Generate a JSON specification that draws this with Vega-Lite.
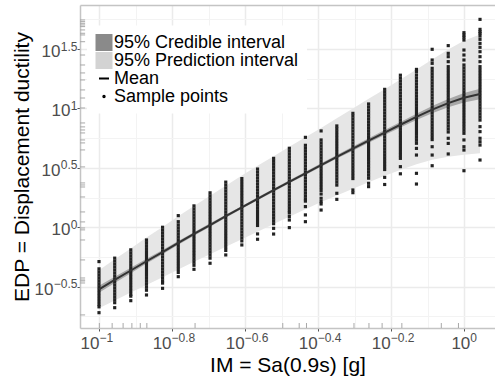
{
"$schema":"https://vega.github.io/schema/vega-lite/v6.json",
"width":415,"height":323,
"autosize":{"type":"none"},
"padding":{"left":80,"top":5,"right":0,"bottom":53},
"config":{"font":"Liberation Sans","view":{"stroke":null}},
"datasets":{
"fit":[
{"x":-1,"m":-0.522,"pl":-0.682,"ph":-0.362,"cl":-0.552,"ch":-0.492},
{"x":-0.957,"m":-0.443,"pl":-0.616,"ph":-0.27,"cl":-0.469,"ch":-0.417},
{"x":-0.913,"m":-0.364,"pl":-0.55,"ph":-0.178,"cl":-0.387,"ch":-0.341},
{"x":-0.87,"m":-0.286,"pl":-0.485,"ph":-0.087,"cl":-0.306,"ch":-0.266},
{"x":-0.826,"m":-0.209,"pl":-0.421,"ph":0.003,"cl":-0.227,"ch":-0.191},
{"x":-0.783,"m":-0.132,"pl":-0.356,"ph":0.092,"cl":-0.148,"ch":-0.116},
{"x":-0.74,"m":-0.056,"pl":-0.291,"ph":0.179,"cl":-0.071,"ch":-0.041},
{"x":-0.696,"m":0.019,"pl":-0.227,"ph":0.265,"cl":0.005,"ch":0.033},
{"x":-0.653,"m":0.093,"pl":-0.164,"ph":0.35,"cl":0.08,"ch":0.106},
{"x":-0.609,"m":0.167,"pl":-0.101,"ph":0.435,"cl":0.155,"ch":0.179},
{"x":-0.566,"m":0.24,"pl":-0.037,"ph":0.517,"cl":0.228,"ch":0.252},
{"x":-0.522,"m":0.312,"pl":0.027,"ph":0.597,"cl":0.3,"ch":0.324},
{"x":-0.479,"m":0.383,"pl":0.089,"ph":0.677,"cl":0.371,"ch":0.395},
{"x":-0.435,"m":0.454,"pl":0.151,"ph":0.757,"cl":0.441,"ch":0.467},
{"x":-0.392,"m":0.524,"pl":0.212,"ph":0.836,"cl":0.51,"ch":0.538},
{"x":-0.349,"m":0.593,"pl":0.268,"ph":0.918,"cl":0.578,"ch":0.608},
{"x":-0.305,"m":0.662,"pl":0.324,"ph":1.0,"cl":0.645,"ch":0.679},
{"x":-0.262,"m":0.73,"pl":0.379,"ph":1.081,"cl":0.711,"ch":0.749},
{"x":-0.218,"m":0.797,"pl":0.433,"ph":1.161,"cl":0.776,"ch":0.818},
{"x":-0.175,"m":0.863,"pl":0.483,"ph":1.243,"cl":0.839,"ch":0.887},
{"x":-0.131,"m":0.929,"pl":0.531,"ph":1.327,"cl":0.902,"ch":0.956},
{"x":-0.088,"m":0.99,"pl":0.568,"ph":1.412,"cl":0.959,"ch":1.021},
{"x":-0.044,"m":1.045,"pl":0.593,"ph":1.497,"cl":1.01,"ch":1.08},
{"x":-0.001,"m":1.09,"pl":0.61,"ph":1.57,"cl":1.05,"ch":1.13},
{"x":0.043,"m":1.122,"pl":0.622,"ph":1.622,"cl":1.077,"ch":1.167}
],
"rugx":[{"x":-0.999},{"x":-0.964},{"x":-0.934},{"x":-0.91},{"x":-0.887},{"x":-0.869},{"x":-0.737},{"x":-0.497},{"x":-0.452},{"x":-0.432},{"x":-0.302},{"x":-0.261},{"x":-0.225},{"x":-0.171},{"x":-0.063},{"x":-0.016}],
"rugy":[{"y":1.745},{"y":1.731},{"y":1.717},{"y":1.703},{"y":1.689},{"y":1.661},{"y":1.633},{"y":1.619},{"y":1.562},{"y":1.45},{"y":1.366},{"y":1.299},{"y":1.24},{"y":1.156},{"y":1.088},{"y":1.004},{"y":0.878},{"y":0.845},{"y":0.819},{"y":0.794},{"y":0.735},{"y":0.71},{"y":0.651},{"y":0.508},{"y":0.373},{"y":0.356},{"y":0.339},{"y":0.255},{"y":0.129},{"y":0.045},{"y":-0.006},{"y":-0.022},{"y":-0.107},{"y":-0.275},{"y":-0.427},{"y":-0.444},{"y":-0.452},{"y":-0.469},{"y":-0.738}],
"pts":[
{"x":-1,"y":-0.289},{"x":-1,"y":-0.35},{"x":-1,"y":-0.375},{"x":-1,"y":-0.4},{"x":-1,"y":-0.425},{"x":-1,"y":-0.45},{"x":-1,"y":-0.475},{"x":-1,"y":-0.5},{"x":-1,"y":-0.525},{"x":-1,"y":-0.55},{"x":-1,"y":-0.575},{"x":-1,"y":-0.6},{"x":-1,"y":-0.625},{"x":-1,"y":-0.65},{"x":-1,"y":-0.67},{"x":-1,"y":-0.719},
{"x":-0.957,"y":-0.26},{"x":-0.957,"y":-0.285},{"x":-0.957,"y":-0.31},{"x":-0.957,"y":-0.335},{"x":-0.957,"y":-0.36},{"x":-0.957,"y":-0.385},{"x":-0.957,"y":-0.41},{"x":-0.957,"y":-0.435},{"x":-0.957,"y":-0.46},{"x":-0.957,"y":-0.485},{"x":-0.957,"y":-0.51},{"x":-0.957,"y":-0.535},{"x":-0.957,"y":-0.56},{"x":-0.957,"y":-0.585},{"x":-0.957,"y":-0.61},{"x":-0.957,"y":-0.635},{"x":-0.957,"y":-0.677},
{"x":-0.913,"y":-0.19},{"x":-0.913,"y":-0.215},{"x":-0.913,"y":-0.24},{"x":-0.913,"y":-0.265},{"x":-0.913,"y":-0.29},{"x":-0.913,"y":-0.315},{"x":-0.913,"y":-0.34},{"x":-0.913,"y":-0.365},{"x":-0.913,"y":-0.39},{"x":-0.913,"y":-0.415},{"x":-0.913,"y":-0.44},{"x":-0.913,"y":-0.465},{"x":-0.913,"y":-0.49},{"x":-0.913,"y":-0.515},{"x":-0.913,"y":-0.54},{"x":-0.913,"y":-0.565},{"x":-0.913,"y":-0.58},{"x":-0.913,"y":-0.618},
{"x":-0.87,"y":-0.107},{"x":-0.87,"y":-0.13},{"x":-0.87,"y":-0.155},{"x":-0.87,"y":-0.18},{"x":-0.87,"y":-0.205},{"x":-0.87,"y":-0.23},{"x":-0.87,"y":-0.255},{"x":-0.87,"y":-0.28},{"x":-0.87,"y":-0.305},{"x":-0.87,"y":-0.33},{"x":-0.87,"y":-0.355},{"x":-0.87,"y":-0.38},{"x":-0.87,"y":-0.405},{"x":-0.87,"y":-0.43},{"x":-0.87,"y":-0.455},{"x":-0.87,"y":-0.48},{"x":-0.87,"y":-0.505},{"x":-0.87,"y":-0.53},{"x":-0.87,"y":-0.57},
{"x":-0.826,"y":0},{"x":-0.826,"y":-0.025},{"x":-0.826,"y":-0.05},{"x":-0.826,"y":-0.075},{"x":-0.826,"y":-0.1},{"x":-0.826,"y":-0.125},{"x":-0.826,"y":-0.15},{"x":-0.826,"y":-0.175},{"x":-0.826,"y":-0.2},{"x":-0.826,"y":-0.225},{"x":-0.826,"y":-0.25},{"x":-0.826,"y":-0.275},{"x":-0.826,"y":-0.3},{"x":-0.826,"y":-0.325},{"x":-0.826,"y":-0.35},{"x":-0.826,"y":-0.375},{"x":-0.826,"y":-0.4},{"x":-0.826,"y":-0.425},{"x":-0.826,"y":-0.45},{"x":-0.826,"y":-0.47},{"x":-0.826,"y":-0.514},
{"x":-0.783,"y":0.098},{"x":-0.783,"y":0.047},{"x":-0.783,"y":0.02},{"x":-0.783,"y":-0.005},{"x":-0.783,"y":-0.03},{"x":-0.783,"y":-0.055},{"x":-0.783,"y":-0.08},{"x":-0.783,"y":-0.105},{"x":-0.783,"y":-0.13},{"x":-0.783,"y":-0.155},{"x":-0.783,"y":-0.18},{"x":-0.783,"y":-0.205},{"x":-0.783,"y":-0.23},{"x":-0.783,"y":-0.255},{"x":-0.783,"y":-0.28},{"x":-0.783,"y":-0.305},{"x":-0.783,"y":-0.33},{"x":-0.783,"y":-0.355},{"x":-0.783,"y":-0.38},{"x":-0.783,"y":-0.416},
{"x":-0.74,"y":0.18},{"x":-0.74,"y":0.155},{"x":-0.74,"y":0.13},{"x":-0.74,"y":0.105},{"x":-0.74,"y":0.08},{"x":-0.74,"y":0.055},{"x":-0.74,"y":0.03},{"x":-0.74,"y":0.005},{"x":-0.74,"y":-0.02},{"x":-0.74,"y":-0.045},{"x":-0.74,"y":-0.07},{"x":-0.74,"y":-0.095},{"x":-0.74,"y":-0.12},{"x":-0.74,"y":-0.145},{"x":-0.74,"y":-0.17},{"x":-0.74,"y":-0.195},{"x":-0.74,"y":-0.22},{"x":-0.74,"y":-0.245},{"x":-0.74,"y":-0.27},{"x":-0.74,"y":-0.295},{"x":-0.74,"y":-0.32},{"x":-0.74,"y":-0.354},
{"x":-0.696,"y":0.29},{"x":-0.696,"y":0.265},{"x":-0.696,"y":0.24},{"x":-0.696,"y":0.215},{"x":-0.696,"y":0.19},{"x":-0.696,"y":0.165},{"x":-0.696,"y":0.14},{"x":-0.696,"y":0.115},{"x":-0.696,"y":0.09},{"x":-0.696,"y":0.065},{"x":-0.696,"y":0.04},{"x":-0.696,"y":0.015},{"x":-0.696,"y":-0.01},{"x":-0.696,"y":-0.035},{"x":-0.696,"y":-0.06},{"x":-0.696,"y":-0.085},{"x":-0.696,"y":-0.11},{"x":-0.696,"y":-0.135},{"x":-0.696,"y":-0.16},{"x":-0.696,"y":-0.185},{"x":-0.696,"y":-0.21},{"x":-0.696,"y":-0.235},{"x":-0.696,"y":-0.26},{"x":-0.696,"y":-0.303},
{"x":-0.653,"y":0.38},{"x":-0.653,"y":0.355},{"x":-0.653,"y":0.33},{"x":-0.653,"y":0.305},{"x":-0.653,"y":0.28},{"x":-0.653,"y":0.255},{"x":-0.653,"y":0.23},{"x":-0.653,"y":0.205},{"x":-0.653,"y":0.18},{"x":-0.653,"y":0.155},{"x":-0.653,"y":0.13},{"x":-0.653,"y":0.105},{"x":-0.653,"y":0.08},{"x":-0.653,"y":0.055},{"x":-0.653,"y":0.03},{"x":-0.653,"y":0.005},{"x":-0.653,"y":-0.02},{"x":-0.653,"y":-0.045},{"x":-0.653,"y":-0.07},{"x":-0.653,"y":-0.095},{"x":-0.653,"y":-0.12},{"x":-0.653,"y":-0.145},{"x":-0.653,"y":-0.17},{"x":-0.653,"y":-0.195},{"x":-0.653,"y":-0.233},
{"x":-0.609,"y":0.41},{"x":-0.609,"y":0.385},{"x":-0.609,"y":0.36},{"x":-0.609,"y":0.335},{"x":-0.609,"y":0.31},{"x":-0.609,"y":0.285},{"x":-0.609,"y":0.26},{"x":-0.609,"y":0.235},{"x":-0.609,"y":0.21},{"x":-0.609,"y":0.185},{"x":-0.609,"y":0.16},{"x":-0.609,"y":0.135},{"x":-0.609,"y":0.11},{"x":-0.609,"y":0.085},{"x":-0.609,"y":0.06},{"x":-0.609,"y":0.035},{"x":-0.609,"y":0.01},{"x":-0.609,"y":-0.015},{"x":-0.609,"y":-0.04},{"x":-0.609,"y":-0.065},{"x":-0.609,"y":-0.09},{"x":-0.609,"y":-0.115},{"x":-0.609,"y":-0.149},
{"x":-0.566,"y":0.49},{"x":-0.566,"y":0.465},{"x":-0.566,"y":0.44},{"x":-0.566,"y":0.415},{"x":-0.566,"y":0.39},{"x":-0.566,"y":0.365},{"x":-0.566,"y":0.34},{"x":-0.566,"y":0.315},{"x":-0.566,"y":0.29},{"x":-0.566,"y":0.265},{"x":-0.566,"y":0.24},{"x":-0.566,"y":0.215},{"x":-0.566,"y":0.19},{"x":-0.566,"y":0.165},{"x":-0.566,"y":0.14},{"x":-0.566,"y":0.115},{"x":-0.566,"y":0.09},{"x":-0.566,"y":0.065},{"x":-0.566,"y":0.04},{"x":-0.566,"y":0.015},{"x":-0.566,"y":-0.056},{"x":-0.566,"y":-0.101},
{"x":-0.522,"y":0.58},{"x":-0.522,"y":0.555},{"x":-0.522,"y":0.53},{"x":-0.522,"y":0.505},{"x":-0.522,"y":0.48},{"x":-0.522,"y":0.455},{"x":-0.522,"y":0.43},{"x":-0.522,"y":0.405},{"x":-0.522,"y":0.38},{"x":-0.522,"y":0.355},{"x":-0.522,"y":0.33},{"x":-0.522,"y":0.305},{"x":-0.522,"y":0.28},{"x":-0.522,"y":0.255},{"x":-0.522,"y":0.23},{"x":-0.522,"y":0.205},{"x":-0.522,"y":0.18},{"x":-0.522,"y":0.155},{"x":-0.522,"y":0.13},{"x":-0.522,"y":0.105},{"x":-0.522,"y":0.08},{"x":-0.522,"y":0.055},{"x":-0.522,"y":0.03},{"x":-0.522,"y":-0.009},{"x":-0.522,"y":-0.057},
{"x":-0.479,"y":0.665},{"x":-0.479,"y":0.64},{"x":-0.479,"y":0.615},{"x":-0.479,"y":0.59},{"x":-0.479,"y":0.565},{"x":-0.479,"y":0.54},{"x":-0.479,"y":0.515},{"x":-0.479,"y":0.49},{"x":-0.479,"y":0.465},{"x":-0.479,"y":0.44},{"x":-0.479,"y":0.415},{"x":-0.479,"y":0.39},{"x":-0.479,"y":0.365},{"x":-0.479,"y":0.34},{"x":-0.479,"y":0.315},{"x":-0.479,"y":0.29},{"x":-0.479,"y":0.265},{"x":-0.479,"y":0.24},{"x":-0.479,"y":0.215},{"x":-0.479,"y":0.19},{"x":-0.479,"y":0.165},{"x":-0.479,"y":0.14},{"x":-0.479,"y":0.12},{"x":-0.479,"y":0.09},{"x":-0.479,"y":0.061},{"x":-0.479,"y":-0.003},
{"x":-0.435,"y":0.757},{"x":-0.435,"y":0.69},{"x":-0.435,"y":0.665},{"x":-0.435,"y":0.64},{"x":-0.435,"y":0.615},{"x":-0.435,"y":0.59},{"x":-0.435,"y":0.565},{"x":-0.435,"y":0.54},{"x":-0.435,"y":0.515},{"x":-0.435,"y":0.49},{"x":-0.435,"y":0.465},{"x":-0.435,"y":0.44},{"x":-0.435,"y":0.415},{"x":-0.435,"y":0.39},{"x":-0.435,"y":0.365},{"x":-0.435,"y":0.34},{"x":-0.435,"y":0.315},{"x":-0.435,"y":0.29},{"x":-0.435,"y":0.265},{"x":-0.435,"y":0.24},{"x":-0.435,"y":0.22},{"x":-0.435,"y":0.174},{"x":-0.435,"y":0.104},{"x":-0.435,"y":0.047},
{"x":-0.392,"y":0.811},{"x":-0.392,"y":0.735},{"x":-0.392,"y":0.71},{"x":-0.392,"y":0.685},{"x":-0.392,"y":0.66},{"x":-0.392,"y":0.635},{"x":-0.392,"y":0.61},{"x":-0.392,"y":0.585},{"x":-0.392,"y":0.56},{"x":-0.392,"y":0.535},{"x":-0.392,"y":0.51},{"x":-0.392,"y":0.485},{"x":-0.392,"y":0.46},{"x":-0.392,"y":0.435},{"x":-0.392,"y":0.41},{"x":-0.392,"y":0.385},{"x":-0.392,"y":0.36},{"x":-0.392,"y":0.335},{"x":-0.392,"y":0.31},{"x":-0.392,"y":0.28},{"x":-0.392,"y":0.244},{"x":-0.392,"y":0.216},{"x":-0.392,"y":0.196},{"x":-0.392,"y":0.145},
{"x":-0.349,"y":0.853},{"x":-0.349,"y":0.83},{"x":-0.349,"y":0.805},{"x":-0.349,"y":0.78},{"x":-0.349,"y":0.755},{"x":-0.349,"y":0.73},{"x":-0.349,"y":0.705},{"x":-0.349,"y":0.68},{"x":-0.349,"y":0.655},{"x":-0.349,"y":0.63},{"x":-0.349,"y":0.605},{"x":-0.349,"y":0.58},{"x":-0.349,"y":0.555},{"x":-0.349,"y":0.53},{"x":-0.349,"y":0.505},{"x":-0.349,"y":0.48},{"x":-0.349,"y":0.455},{"x":-0.349,"y":0.43},{"x":-0.349,"y":0.405},{"x":-0.349,"y":0.38},{"x":-0.349,"y":0.355},{"x":-0.349,"y":0.286},{"x":-0.349,"y":0.235},
{"x":-0.305,"y":0.959},{"x":-0.305,"y":0.935},{"x":-0.305,"y":0.91},{"x":-0.305,"y":0.885},{"x":-0.305,"y":0.86},{"x":-0.305,"y":0.835},{"x":-0.305,"y":0.81},{"x":-0.305,"y":0.785},{"x":-0.305,"y":0.76},{"x":-0.305,"y":0.735},{"x":-0.305,"y":0.71},{"x":-0.305,"y":0.685},{"x":-0.305,"y":0.66},{"x":-0.305,"y":0.635},{"x":-0.305,"y":0.61},{"x":-0.305,"y":0.585},{"x":-0.305,"y":0.56},{"x":-0.305,"y":0.535},{"x":-0.305,"y":0.51},{"x":-0.305,"y":0.485},{"x":-0.305,"y":0.46},{"x":-0.305,"y":0.435},{"x":-0.305,"y":0.41},{"x":-0.305,"y":0.314},{"x":-0.305,"y":0.291},
{"x":-0.262,"y":1.038},{"x":-0.262,"y":1.013},{"x":-0.262,"y":0.988},{"x":-0.262,"y":0.963},{"x":-0.262,"y":0.938},{"x":-0.262,"y":0.913},{"x":-0.262,"y":0.888},{"x":-0.262,"y":0.863},{"x":-0.262,"y":0.838},{"x":-0.262,"y":0.813},{"x":-0.262,"y":0.788},{"x":-0.262,"y":0.763},{"x":-0.262,"y":0.738},{"x":-0.262,"y":0.713},{"x":-0.262,"y":0.688},{"x":-0.262,"y":0.663},{"x":-0.262,"y":0.638},{"x":-0.262,"y":0.613},{"x":-0.262,"y":0.588},{"x":-0.262,"y":0.563},{"x":-0.262,"y":0.538},{"x":-0.262,"y":0.513},{"x":-0.262,"y":0.488},{"x":-0.262,"y":0.463},{"x":-0.262,"y":0.438},{"x":-0.262,"y":0.413},{"x":-0.262,"y":0.37},{"x":-0.262,"y":0.342},
{"x":-0.218,"y":1.161},{"x":-0.218,"y":1.136},{"x":-0.218,"y":1.111},{"x":-0.218,"y":1.086},{"x":-0.218,"y":1.061},{"x":-0.218,"y":1.036},{"x":-0.218,"y":1.011},{"x":-0.218,"y":0.986},{"x":-0.218,"y":0.961},{"x":-0.218,"y":0.936},{"x":-0.218,"y":0.911},{"x":-0.218,"y":0.886},{"x":-0.218,"y":0.861},{"x":-0.218,"y":0.836},{"x":-0.218,"y":0.811},{"x":-0.218,"y":0.786},{"x":-0.218,"y":0.761},{"x":-0.218,"y":0.736},{"x":-0.218,"y":0.711},{"x":-0.218,"y":0.686},{"x":-0.218,"y":0.661},{"x":-0.218,"y":0.636},{"x":-0.218,"y":0.611},{"x":-0.218,"y":0.586},{"x":-0.218,"y":0.561},{"x":-0.218,"y":0.536},{"x":-0.218,"y":0.511},{"x":-0.218,"y":0.486},{"x":-0.218,"y":0.42},{"x":-0.218,"y":0.36},
{"x":-0.175,"y":1.28},{"x":-0.175,"y":1.255},{"x":-0.175,"y":1.23},{"x":-0.175,"y":1.205},{"x":-0.175,"y":1.18},{"x":-0.175,"y":1.155},{"x":-0.175,"y":1.13},{"x":-0.175,"y":1.105},{"x":-0.175,"y":1.08},{"x":-0.175,"y":1.055},{"x":-0.175,"y":1.03},{"x":-0.175,"y":1.005},{"x":-0.175,"y":0.98},{"x":-0.175,"y":0.955},{"x":-0.175,"y":0.93},{"x":-0.175,"y":0.905},{"x":-0.175,"y":0.88},{"x":-0.175,"y":0.855},{"x":-0.175,"y":0.83},{"x":-0.175,"y":0.805},{"x":-0.175,"y":0.78},{"x":-0.175,"y":0.755},{"x":-0.175,"y":0.73},{"x":-0.175,"y":0.705},{"x":-0.175,"y":0.68},{"x":-0.175,"y":0.655},{"x":-0.175,"y":0.63},{"x":-0.175,"y":0.605},{"x":-0.175,"y":0.58},{"x":-0.175,"y":0.51},{"x":-0.175,"y":0.45},
{"x":-0.131,"y":1.329},{"x":-0.131,"y":1.31},{"x":-0.131,"y":1.282},{"x":-0.131,"y":1.257},{"x":-0.131,"y":1.232},{"x":-0.131,"y":1.207},{"x":-0.131,"y":1.182},{"x":-0.131,"y":1.157},{"x":-0.131,"y":1.132},{"x":-0.131,"y":1.107},{"x":-0.131,"y":1.082},{"x":-0.131,"y":1.057},{"x":-0.131,"y":1.032},{"x":-0.131,"y":1.007},{"x":-0.131,"y":0.982},{"x":-0.131,"y":0.957},{"x":-0.131,"y":0.932},{"x":-0.131,"y":0.907},{"x":-0.131,"y":0.882},{"x":-0.131,"y":0.857},{"x":-0.131,"y":0.832},{"x":-0.131,"y":0.807},{"x":-0.131,"y":0.782},{"x":-0.131,"y":0.757},{"x":-0.131,"y":0.732},{"x":-0.131,"y":0.707},{"x":-0.131,"y":0.664},{"x":-0.131,"y":0.608},{"x":-0.131,"y":0.454},{"x":-0.131,"y":0.364},
{"x":-0.088,"y":1.498},{"x":-0.088,"y":1.408},{"x":-0.088,"y":1.38},{"x":-0.088,"y":1.338},{"x":-0.088,"y":1.313},{"x":-0.088,"y":1.288},{"x":-0.088,"y":1.263},{"x":-0.088,"y":1.238},{"x":-0.088,"y":1.213},{"x":-0.088,"y":1.188},{"x":-0.088,"y":1.163},{"x":-0.088,"y":1.138},{"x":-0.088,"y":1.113},{"x":-0.088,"y":1.088},{"x":-0.088,"y":1.063},{"x":-0.088,"y":1.038},{"x":-0.088,"y":1.013},{"x":-0.088,"y":0.988},{"x":-0.088,"y":0.963},{"x":-0.088,"y":0.938},{"x":-0.088,"y":0.913},{"x":-0.088,"y":0.888},{"x":-0.088,"y":0.863},{"x":-0.088,"y":0.838},{"x":-0.088,"y":0.813},{"x":-0.088,"y":0.788},{"x":-0.088,"y":0.763},{"x":-0.088,"y":0.738},{"x":-0.088,"y":0.678},{"x":-0.088,"y":0.608},{"x":-0.088,"y":0.518},
{"x":-0.044,"y":1.529},{"x":-0.044,"y":1.464},{"x":-0.044,"y":1.436},{"x":-0.044,"y":1.394},{"x":-0.044,"y":1.352},{"x":-0.044,"y":1.327},{"x":-0.044,"y":1.302},{"x":-0.044,"y":1.277},{"x":-0.044,"y":1.252},{"x":-0.044,"y":1.227},{"x":-0.044,"y":1.202},{"x":-0.044,"y":1.177},{"x":-0.044,"y":1.152},{"x":-0.044,"y":1.127},{"x":-0.044,"y":1.102},{"x":-0.044,"y":1.077},{"x":-0.044,"y":1.052},{"x":-0.044,"y":1.027},{"x":-0.044,"y":1.002},{"x":-0.044,"y":0.977},{"x":-0.044,"y":0.952},{"x":-0.044,"y":0.927},{"x":-0.044,"y":0.902},{"x":-0.044,"y":0.877},{"x":-0.044,"y":0.852},{"x":-0.044,"y":0.827},{"x":-0.044,"y":0.802},{"x":-0.044,"y":0.749},{"x":-0.044,"y":0.706},{"x":-0.044,"y":0.617},
{"x":-0.001,"y":1.638},{"x":-0.001,"y":1.618},{"x":-0.001,"y":1.599},{"x":-0.001,"y":1.576},{"x":-0.001,"y":1.492},{"x":-0.001,"y":1.45},{"x":-0.001,"y":1.408},{"x":-0.001,"y":1.366},{"x":-0.001,"y":1.341},{"x":-0.001,"y":1.316},{"x":-0.001,"y":1.291},{"x":-0.001,"y":1.266},{"x":-0.001,"y":1.241},{"x":-0.001,"y":1.216},{"x":-0.001,"y":1.191},{"x":-0.001,"y":1.166},{"x":-0.001,"y":1.141},{"x":-0.001,"y":1.116},{"x":-0.001,"y":1.091},{"x":-0.001,"y":1.066},{"x":-0.001,"y":1.041},{"x":-0.001,"y":1.016},{"x":-0.001,"y":0.991},{"x":-0.001,"y":0.966},{"x":-0.001,"y":0.941},{"x":-0.001,"y":0.916},{"x":-0.001,"y":0.891},{"x":-0.001,"y":0.866},{"x":-0.001,"y":0.841},{"x":-0.001,"y":0.816},{"x":-0.001,"y":0.791},{"x":-0.001,"y":0.735},{"x":-0.001,"y":0.678},{"x":-0.001,"y":0.65},{"x":-0.001,"y":0.476},
{"x":0.043,"y":1.75},{"x":0.043,"y":1.666},{"x":0.043,"y":1.646},{"x":0.043,"y":1.632},{"x":0.043,"y":1.61},{"x":0.043,"y":1.582},{"x":0.043,"y":1.548},{"x":0.043,"y":1.515},{"x":0.043,"y":1.478},{"x":0.043,"y":1.436},{"x":0.043,"y":1.394},{"x":0.043,"y":1.352},{"x":0.043,"y":1.327},{"x":0.043,"y":1.302},{"x":0.043,"y":1.277},{"x":0.043,"y":1.252},{"x":0.043,"y":1.227},{"x":0.043,"y":1.202},{"x":0.043,"y":1.177},{"x":0.043,"y":1.152},{"x":0.043,"y":1.127},{"x":0.043,"y":1.102},{"x":0.043,"y":1.077},{"x":0.043,"y":1.052},{"x":0.043,"y":1.027},{"x":0.043,"y":1.002},{"x":0.043,"y":0.977},{"x":0.043,"y":0.952},{"x":0.043,"y":0.927},{"x":0.043,"y":0.902},{"x":0.043,"y":0.847},{"x":0.043,"y":0.805},{"x":0.043,"y":0.749},{"x":0.043,"y":0.72},{"x":0.043,"y":0.692},{"x":0.043,"y":0.566}
]
},
"resolve":{"axis":{"x":"independent","y":"independent"}},
"layer":[
{"data":{"name":"fit"},"mark":{"type":"area","color":"#e6e6e6","opacity":1},
 "encoding":{
  "x":{"field":"x","type":"quantitative","scale":{"domain":[-1.052,0.084],"nice":false,"zero":false},
   "axis":{"orient":"bottom","values":[-1,-0.9,-0.8,-0.7,-0.6,-0.5,-0.4,-0.3,-0.2,-0.1,0],
    "title":"IM = Sa(0.9s) [g]","titleFontSize":21,"titleFontWeight":"normal","titleColor":"#000000","titlePadding":3,
    "labelExpr":"abs(datum.value*5-round(datum.value*5))<0.01 ? '10' : ''",
    "labelFontSize":17,"labelColor":"#4d4d4d","labelAlign":"right","labelBaseline":"top","labelPadding":4,
    "labelOffset":{"condition":[{"test":"abs(datum.value+1)<0.01","value":0},{"test":"abs(datum.value)<0.01","value":5.5}],"value":-1},
    "labelFlush":false,"labelOverlap":false,"labelBound":false,
    "grid":true,
    "gridColor":{"condition":{"test":"abs(datum.value*5-round(datum.value*5))<0.01","value":"#ebebeb"},"value":"#f3f3f3"},
    "gridWidth":{"condition":{"test":"abs(datum.value*5-round(datum.value*5))<0.01","value":1.5},"value":1},
    "ticks":true,"tickSize":3,"tickColor":"#555555",
    "tickOpacity":{"condition":{"test":"abs(datum.value*5-round(datum.value*5))<0.01","value":1},"value":0},
    "domain":true,"domainColor":"#c4c4c4","domainWidth":1.5}},
  "y":{"field":"pl","type":"quantitative","scale":{"domain":[-0.848,1.871],"nice":false,"zero":false},
   "axis":{"orient":"left","values":[-0.75,-0.5,-0.25,0,0.25,0.5,0.75,1,1.25,1.5,1.75],
    "title":"EDP = Displacement ductility","titleFontSize":21,"titleFontWeight":"normal","titleColor":"#000000","titlePadding":2,
    "labelExpr":"abs(datum.value*2-round(datum.value*2))<0.01 ? '10' : ''",
    "labelFontSize":17,"labelColor":"#4d4d4d","labelAlign":"right","labelBaseline":"middle","labelOffset":2.5,
    "labelPadding":{"condition":[{"test":"abs(datum.value+0.5)<0.01","value":24},{"test":"abs(datum.value-0.5)<0.01 || abs(datum.value-1.5)<0.01","value":17}],"value":7},
    "labelOverlap":false,"labelBound":false,
    "grid":true,
    "gridColor":{"condition":{"test":"abs(datum.value*2-round(datum.value*2))<0.01","value":"#ebebeb"},"value":"#f3f3f3"},
    "gridWidth":{"condition":{"test":"abs(datum.value*2-round(datum.value*2))<0.01","value":1.5},"value":1},
    "ticks":true,"tickSize":3,"tickColor":"#555555",
    "tickOpacity":{"condition":{"test":"abs(datum.value*2-round(datum.value*2))<0.01","value":1},"value":0},
    "domain":true,"domainColor":"#c4c4c4","domainWidth":1.5}},
  "y2":{"field":"ph"}
 }},
{"data":{"name":"fit"},"mark":{"type":"area","color":"#a8a8a8","opacity":1},
 "encoding":{
  "x":{"field":"x","type":"quantitative","axis":{"orient":"top","domain":true,"domainColor":"#c4c4c4","domainWidth":1.5,"ticks":false,"labels":false,"grid":false,"title":null}},
  "y":{"field":"cl","type":"quantitative","axis":null},
  "y2":{"field":"ch"}
 }},
{"data":{"name":"rugy"},"mark":{"type":"rule","color":"#a8a8a8","strokeWidth":1},
 "encoding":{
  "x":{"datum":-1.052,"type":"quantitative","axis":null},
  "x2":{"datum":-1.038},
  "y":{"field":"y","type":"quantitative",
   "axis":{"orient":"left","values":[-0.5,0,0.5,1,1.5],"title":null,"grid":false,"domain":false,
    "ticks":true,"tickSize":3,"tickOpacity":0,
    "labelExpr":"abs(datum.value+0.5)<0.01 ? '−0.5' : abs(datum.value)<0.01 ? '0' : abs(datum.value-0.5)<0.01 ? '0.5' : abs(datum.value-1)<0.01 ? '1' : '1.5'",
    "labelFontSize":12,"labelColor":"#4d4d4d","labelAlign":"right","labelBaseline":"middle","labelOffset":-3,"labelPadding":0,
    "labelOverlap":false,"labelBound":false}}
 }},
{"data":{"name":"rugx"},"mark":{"type":"rule","color":"#a8a8a8","strokeWidth":1},
 "encoding":{
  "x":{"field":"x","type":"quantitative",
   "axis":{"orient":"bottom","values":[-1,-0.8,-0.6,-0.4,-0.2,0],"title":null,"grid":false,"domain":false,
    "ticks":true,"tickSize":3,"tickOpacity":0,
    "labelExpr":"abs(datum.value+1)<0.01 ? '−1' : abs(datum.value+0.8)<0.01 ? '−0.8' : abs(datum.value+0.6)<0.01 ? '−0.6' : abs(datum.value+0.4)<0.01 ? '−0.4' : abs(datum.value+0.2)<0.01 ? '−0.2' : '0'",
    "labelFontSize":12,"labelColor":"#4d4d4d","labelAlign":"left","labelBaseline":"top","labelPadding":1,
    "labelOffset":{"condition":[{"test":"abs(datum.value+1)<0.01","value":0},{"test":"abs(datum.value)<0.01","value":5.5}],"value":-1},
    "labelFlush":false,"labelOverlap":false,"labelBound":false}},
  "y":{"datum":-0.848,"type":"quantitative","axis":null},
  "y2":{"datum":-0.806}
 }},
{"data":{"name":"pts"},"mark":{"type":"point","shape":"square","filled":true,"size":10,"opacity":1,"color":"#222222"},
 "encoding":{
  "x":{"field":"x","type":"quantitative","axis":null},
  "y":{"field":"y","type":"quantitative","axis":null}
 }},
{"data":{"name":"fit"},"mark":{"type":"line","strokeWidth":2,"color":"#333333"},
 "encoding":{
  "x":{"field":"x","type":"quantitative","axis":null},
  "y":{"field":"m","type":"quantitative","axis":null}
 }},
{"data":{"values":[]},"mark":{"type":"point","filled":true,"opacity":1},
 "encoding":{
  "fill":{"field":"k","type":"nominal",
   "scale":{"domain":["95% Credible interval","95% Prediction interval","Mean","Sample points"],"range":["#8a8a8a","#d3d3d3","transparent","#000000"]},
   "legend":{"title":null,"orient":"none","legendX":7,"legendY":20.5,"padding":8,"fillColor":"#ffffff",
    "labelFontSize":18,"labelColor":"#000000","labelFont":"Liberation Sans","labelOffset":1,"labelLimit":0,
    "rowPadding":0,"clipHeight":18,"symbolStrokeWidth":2,"symbolOpacity":1}},
  "stroke":{"field":"k","type":"nominal",
   "scale":{"domain":["95% Credible interval","95% Prediction interval","Mean","Sample points"],"range":["#8a8a8a","#d3d3d3","#000000","#000000"]}},
  "shape":{"field":"k","type":"nominal",
   "scale":{"domain":["95% Credible interval","95% Prediction interval","Mean","Sample points"],"range":["square","square","stroke","circle"]}},
  "size":{"field":"k","type":"nominal",
   "scale":{"type":"ordinal","domain":["95% Credible interval","95% Prediction interval","Mean","Sample points"],"range":[225,225,100,2]}}
 }}
]
}
